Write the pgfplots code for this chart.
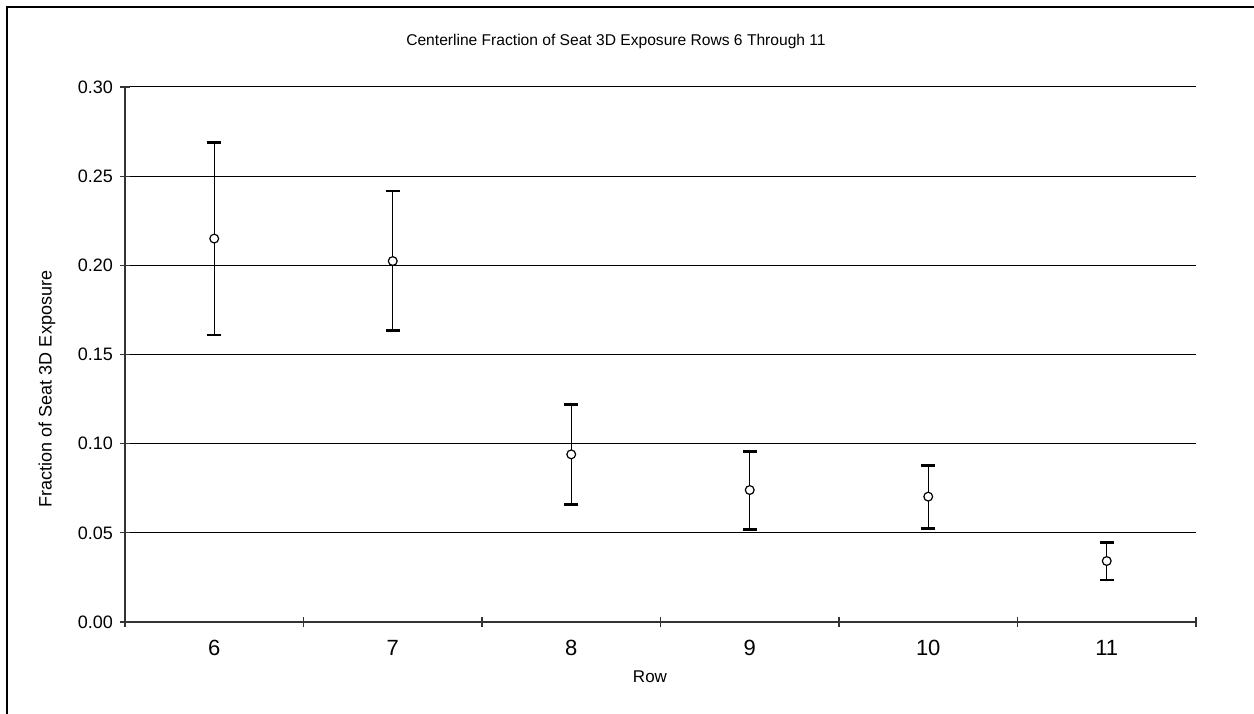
\documentclass[border=0pt]{standalone}
\usepackage{pgfplots}
\pgfplotsset{compat=1.18}
\usepackage{fontspec}
\setmainfont{Liberation Sans}
\begin{document}
\begin{tikzpicture}[x=1pt,y=1pt]
\begin{axis}[
  at={(0,0)}, anchor=south west,
  scale only axis, width=535.5pt, height=267.5pt,
  xmin=5.5, xmax=11.5, ymin=0, ymax=0.30,
  axis x line=bottom, axis y line=left,
  axis line style={black!80, line width=0.6pt, -},
  xtick={6,7,8,9,10,11},
  xticklabels={6,7,8,9,10,11},
  major x tick style={draw=none},
  minor xtick={5.5,6.5,7.5,8.5,9.5,10.5,11.5},
  minor x tick style={black!80, line width=0.6pt},
  minor tick length=5pt,
  xticklabel style={font=\fontsize{11}{12}\selectfont, yshift=-3pt},
  ytick={0,0.05,0.10,0.15,0.20,0.25,0.30},
  yticklabel style={font=\fontsize{9}{10}\selectfont, /pgf/number format/fixed, /pgf/number format/precision=2, /pgf/number format/fixed zerofill},
  /pgf/number format/assume math mode=true,
  y tick style={black!80, line width=0.6pt},
  major tick length=5pt,
  tick align=center,
  ymajorgrids, grid style={black, line width=0.5pt},
  clip=false,
]
\addplot[black, line width=0.6pt, only marks,
  mark=*, mark size=2.2pt, mark options={fill=white},
  error bars/.cd, y dir=both, y explicit,
  error mark=|, error mark options={black, mark size=3.6pt, line width=1.3pt},
  error bar style={black, line width=0.6pt}]
  table[x=x, y=y, y error plus=ep, y error minus=em] {
x y ep em
6 0.2150 0.0540 0.0540
7 0.2024 0.0393 0.0390
8 0.0940 0.0280 0.0280
9 0.0740 0.0215 0.0222
10 0.0703 0.0176 0.0178
11 0.0342 0.0105 0.0106
};
\end{axis}
\node[font=\fontsize{7.8}{9}\selectfont] at (245.5pt,290.5pt) {Centerline Fraction of Seat 3D Exposure Rows 6 Through 11};
\node[font=\fontsize{9}{10}\selectfont, rotate=90] at (-39pt,116.5pt) {Fraction of Seat 3D Exposure};
\node[font=\fontsize{8.5}{10}\selectfont] at (262.5pt,-27.5pt) {Row};
\draw[line width=1.2pt] (600pt,307.5pt) -- (-59pt,307.5pt) -- (-59pt,-80pt);
\pgfresetboundingbox
\path[use as bounding box] (-62.5pt,-45.5pt) rectangle (564.5pt,311pt);
\end{tikzpicture}
\end{document}
